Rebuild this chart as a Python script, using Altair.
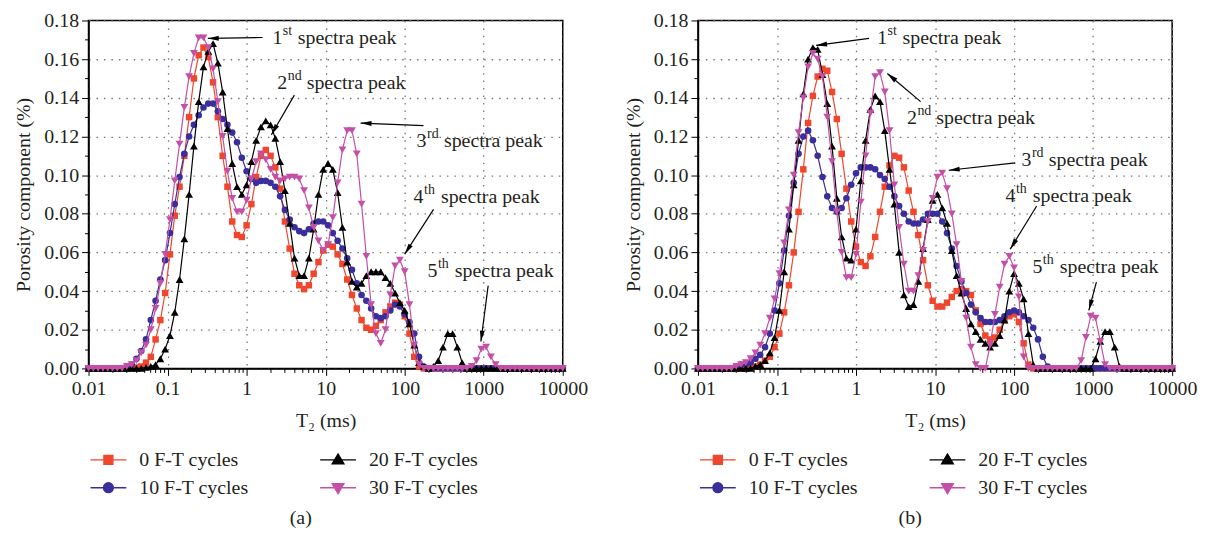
import math
import altair as alt
import pandas as pd

FONT = "Liberation Serif"
TXT = "#231F20"

# T2 sampling grid (log-spaced, 100 points from 0.01 to 10000 ms)
T2 = [10 ** (-2 + 6 * i / 99) for i in range(100)]

SERIES = ["0 F-T cycles", "10 F-T cycles", "20 F-T cycles", "30 F-T cycles"]
COLORS = ["#F0462D", "#3A2E9C", "#000000", "#C44FA6"]
SHAPES = ["square", "circle", "triangle-up", "triangle-down"]
SIZES = [42, 44, 62, 62]

Z10 = [0] * 10

# ---------- panel (a) ----------
a_0 = Z10 + [
    0.0005, 0.001, 0.003, 0.006, 0.015, 0.025, 0.039, 0.059, 0.079, 0.094,
    0.110, 0.130, 0.150, 0.162, 0.166, 0.161, 0.148, 0.130, 0.110, 0.094,
    0.076, 0.069, 0.068, 0.074, 0.085, 0.099, 0.110, 0.113, 0.110, 0.104,
    0.093, 0.076, 0.062, 0.049, 0.043, 0.041, 0.043, 0.049, 0.055, 0.061,
    0.064, 0.063, 0.059, 0.054, 0.046, 0.038, 0.031, 0.025, 0.021, 0.020,
    0.022, 0.025, 0.029, 0.032, 0.034, 0.033, 0.027, 0.018, 0.006, 0.001,
] + Z10 * 3
a_10 = [0, 0, 0, 0, 0, 0, 0, 0, 0.001, 0.002] + [
    0.005, 0.009, 0.015, 0.025, 0.035, 0.046, 0.056, 0.070, 0.085, 0.099,
    0.111, 0.120, 0.126, 0.131, 0.135, 0.137, 0.137, 0.133, 0.129, 0.126,
    0.122, 0.117, 0.109, 0.102, 0.098, 0.096, 0.097, 0.097, 0.096, 0.094,
    0.089, 0.082, 0.077, 0.073, 0.071, 0.070, 0.072, 0.075, 0.076, 0.076,
    0.074, 0.070, 0.066, 0.062, 0.057, 0.051, 0.044, 0.038, 0.035, 0.031,
    0.027, 0.026, 0.027, 0.030, 0.033, 0.032, 0.028, 0.024, 0.018, 0.006,
    0.001, 0, 0, 0, 0, 0, 0, 0, 0, 0,
] + Z10 * 2
a_20 = Z10 + [
    0, 0, 0.0005, 0.001, 0.002, 0.005, 0.010, 0.017, 0.029, 0.046,
    0.067, 0.090, 0.115, 0.138, 0.156, 0.164, 0.168, 0.158, 0.143, 0.124,
    0.106, 0.094, 0.090, 0.095, 0.107, 0.118, 0.125, 0.128, 0.126, 0.119,
    0.107, 0.092, 0.075, 0.057, 0.048, 0.048, 0.057, 0.072, 0.090, 0.103,
    0.106, 0.103, 0.091, 0.073, 0.055, 0.045, 0.042, 0.044, 0.048, 0.050,
    0.050, 0.050, 0.047, 0.044, 0.039, 0.034, 0.030, 0.023, 0.012, 0.003,
    0.001, 0, 0.001, 0.004, 0.011, 0.018, 0.018, 0.011, 0.003, 0,
] + Z10 * 2
a_30 = [0, 0, 0, 0, 0, 0, 0, 0, 0.001, 0.002] + [
    0.004, 0.008, 0.012, 0.020, 0.031, 0.044, 0.059, 0.077, 0.097, 0.116,
    0.135, 0.151, 0.163, 0.171, 0.171, 0.166, 0.155, 0.138, 0.120, 0.102,
    0.088, 0.081, 0.081, 0.087, 0.098, 0.107, 0.111, 0.108, 0.103, 0.099,
    0.097, 0.098, 0.099, 0.099, 0.098, 0.092, 0.083, 0.073, 0.066, 0.061,
    0.064, 0.078, 0.096, 0.113, 0.123, 0.123, 0.111, 0.085, 0.058, 0.033,
    0.018, 0.013, 0.020, 0.038, 0.053, 0.056, 0.050, 0.033, 0.012, 0.002,
    0, 0, 0, 0, 0, 0, 0, 0, 0, 0,
    0.001, 0.004, 0.010, 0.011, 0.006, 0.002, 0, 0, 0, 0,
] + Z10

# ---------- panel (b) ----------
b_0 = Z10 + [
    0, 0.0005, 0.001, 0.002, 0.004, 0.006, 0.011, 0.018, 0.029, 0.043,
    0.060, 0.081, 0.103, 0.127, 0.141, 0.151, 0.155, 0.154, 0.143, 0.129,
    0.111, 0.093, 0.076, 0.063, 0.055, 0.053, 0.058, 0.068, 0.081, 0.094,
    0.105, 0.110, 0.109, 0.104, 0.092, 0.081, 0.069, 0.056, 0.043, 0.035,
    0.032, 0.032, 0.034, 0.037, 0.040, 0.041, 0.040, 0.038, 0.030, 0.023,
    0.017, 0.015, 0.016, 0.020, 0.025, 0.027, 0.028, 0.024, 0.013, 0.002,
] + Z10 * 3
b_10 = [0, 0, 0, 0, 0, 0, 0, 0, 0.001, 0.002] + [
    0.002, 0.003, 0.005, 0.007, 0.011, 0.018, 0.030, 0.044, 0.061, 0.079,
    0.096, 0.111, 0.120, 0.123, 0.118, 0.110, 0.099, 0.089, 0.083, 0.081,
    0.083, 0.088, 0.095, 0.101, 0.104, 0.104, 0.104, 0.103, 0.100, 0.098,
    0.094, 0.089, 0.084, 0.080, 0.076, 0.075, 0.075, 0.077, 0.080, 0.080,
    0.080, 0.076, 0.070, 0.062, 0.053, 0.045, 0.039, 0.033, 0.029, 0.026,
    0.024, 0.024, 0.024, 0.025, 0.027, 0.029, 0.030, 0.029, 0.027, 0.025,
    0.021, 0.015, 0.006, 0.001, 0, 0, 0, 0, 0, 0,
] + Z10 * 2
b_20 = Z10 + [
    0, 0, 0.001, 0.002, 0.004, 0.008, 0.016, 0.030, 0.050, 0.072,
    0.095, 0.118, 0.142, 0.160, 0.166, 0.165, 0.152, 0.137, 0.115, 0.088,
    0.068, 0.057, 0.056, 0.072, 0.097, 0.118, 0.134, 0.141, 0.138, 0.123,
    0.103, 0.085, 0.060, 0.038, 0.032, 0.033, 0.045, 0.062, 0.077, 0.087,
    0.090, 0.083, 0.075, 0.061, 0.048, 0.039, 0.031, 0.023, 0.019, 0.015,
    0.013, 0.011, 0.013, 0.017, 0.025, 0.040, 0.049, 0.044, 0.036, 0.018,
    0.002, 0, 0, 0, 0, 0, 0, 0, 0, 0,
    0, 0, 0, 0.005, 0.014, 0.019, 0.019, 0.011, 0.001, 0,
] + Z10
b_30 = [0, 0, 0, 0, 0, 0, 0, 0, 0.001, 0.002] + [
    0.003, 0.005, 0.008, 0.012, 0.018, 0.026, 0.036, 0.049, 0.065, 0.082,
    0.100, 0.122, 0.140, 0.156, 0.163, 0.160, 0.151, 0.130, 0.107, 0.081,
    0.060, 0.047, 0.047, 0.059, 0.086, 0.110, 0.132, 0.151, 0.153, 0.143,
    0.123, 0.095, 0.073, 0.054, 0.040, 0.040, 0.048, 0.061, 0.076, 0.088,
    0.099, 0.101, 0.093, 0.080, 0.064, 0.045, 0.026, 0.011, 0.002, 0,
    0, 0.012, 0.028, 0.042, 0.054, 0.058, 0.052, 0.037, 0.006, 0,
    0, 0, 0, 0, 0, 0, 0, 0, 0, 0,
    0.004, 0.016, 0.027, 0.026, 0.014, 0.002, 0, 0, 0, 0,
] + Z10

# ---------- annotations: number, suffix, text anchor, arrow tail, arrow head ----------
ANN_NUM = ["1", "2", "3", "4", "5"]
ANN_SUP = ["st", "nd", "rd", "th", "th"]
ANN_REST = "spectra peak"
SUP_W = {"st": 10, "nd": 14, "rd": 12, "th": 12}

ann_a_tx = [2.12, 2.45, 141.6, 129.7, 194.5]
ann_a_ty = [0.1707, 0.1476, 0.1178, 0.0885, 0.0504]
ann_a_tailx = [1.59, 4.02, 173.0, 232.0, 1139.0]
ann_a_taily = [0.1712, 0.1414, 0.1256, 0.0823, 0.0428]
ann_a_headx = [0.323, 2.06, 27.7, 100.0, 922.0]
ann_a_heady = [0.1707, 0.1209, 0.1269, 0.0591, 0.0139]

ann_b_tx = [1.85, 4.41, 124.0, 77.9, 170.5]
ann_b_ty = [0.1707, 0.1296, 0.1080, 0.0891, 0.0523]
ann_b_tailx = [1.466, 6.57, 103.3, 193.0, 1100.0]
ann_b_taily = [0.1707, 0.1380, 0.1063, 0.0840, 0.0446]
ann_b_headx = [0.3126, 2.49, 14.9, 89.3, 882.6]
ann_b_heady = [0.1671, 0.1526, 0.1025, 0.0617, 0.0300]

X_TICKS = [m * 10 ** d for d in range(-2, 4) for m in range(1, 10)] + [10000]
Y_TICKS = [k / 100 for k in range(0, 19)]

W, H = 477, 350
YMAX = 0.18
FS = 20        # main text size
SUP_FS = 14    # superscript size

X_MAJOR = "abs(log(datum.value)/LN10 - round(log(datum.value)/LN10)) < 0.001"
Y_MAJOR = "abs(datum.value*50 - round(datum.value*50)) < 0.01"

xscale = alt.Scale(type="log", domain=[0.01, 10000], nice=False)
yscale = alt.Scale(domain=[0, YMAX], nice=False, zero=False)

common_axis = dict(
    grid=True, gridDash=[1.5, 6], gridColor="#777777", gridWidth=1.3,
    labelFlush=False, labelOverlap=False, labelFont=FONT, labelFontSize=20, labelColor=TXT,
    labelPadding=3, titleFont=FONT, titleFontSize=FS, titleFontWeight="normal", titleColor=TXT,
    domainColor="black", domainWidth=1.5, tickColor="black",
)
xaxis = alt.Axis(
    values=X_TICKS, title="T\u2082 (ms)",
    labelExpr=f"({X_MAJOR}) ? format(datum.value, '~g') : ''",
    tickSize={"condition": {"test": X_MAJOR, "value": 7}, "value": 4},
    gridOpacity={"condition": {"test": X_MAJOR, "value": 1}, "value": 0},
    titlePadding=12, **common_axis,
)
yaxis = alt.Axis(
    values=Y_TICKS, title="Porosity component (%)",
    labelExpr=f"({Y_MAJOR}) ? format(datum.value, '.2f') : ''",
    tickSize={"condition": {"test": Y_MAJOR, "value": 7}, "value": 4},
    gridOpacity={"condition": {"test": Y_MAJOR, "value": 1}, "value": 0},
    titlePadding=10, **common_axis,
)

LEG_PATH = {
    "square": "M-2,0L2,0M-0.5,-0.5L0.5,-0.5L0.5,0.5L-0.5,0.5Z",
    "circle": "M-2,0L2,0M0.55,0A0.55,0.55 0 1,1 -0.55,0A0.55,0.55 0 1,1 0.55,0Z",
    "triangle-up": "M-2,0L2,0M0,-0.65L0.65,0.45L-0.65,0.45Z",
    "triangle-down": "M-2,0L2,0M0,0.65L0.65,-0.45L-0.65,-0.45Z",
}
ARROW = "M0,0L0.45,2L-0.45,2Z"


def X(field):
    return alt.X(f"{field}:Q", scale=xscale, axis=xaxis)


def Y(field):
    return alt.Y(f"{field}:Q", scale=yscale, axis=yaxis)


def panel(vals, tx, ty, tailx, taily, headx, heady, caption):
    layers = []
    for k in range(4):
        df = pd.DataFrame({"T2": T2, "v": vals[k]})
        base = alt.Chart(df).encode(x=X("T2"), y=Y("v"))
        layers.append(base.mark_line(color=COLORS[k], strokeWidth=1.2))
        layers.append(base.mark_point(shape=SHAPES[k], color=COLORS[k], filled=True,
                                      size=SIZES[k], opacity=1, strokeWidth=0))

    # legend (drawn by the legend only, no marks)
    leg = alt.Legend(orient="none", legendX=10, legendY=432, columns=2, title=None,
                     symbolSize=324, labelOffset=21, columnPadding=69, rowPadding=8,
                     labelFontSize=FS, labelFont=FONT, labelColor=TXT,
                     symbolStrokeWidth=1.4, symbolOpacity=1, labelLimit=300)
    ldf = pd.DataFrame({"series": SERIES, "T2": [1.0] * 4, "v": [-1.0] * 4})
    layers.append(
        alt.Chart(ldf).transform_filter("datum.v >= 0").mark_point(filled=True, opacity=1)
        .encode(
            x=X("T2"), y=Y("v"),
            fill=alt.Fill("series:N", scale=alt.Scale(domain=SERIES, range=COLORS), legend=leg),
            stroke=alt.Stroke("series:N", scale=alt.Scale(domain=SERIES, range=COLORS), legend=leg),
            shape=alt.Shape("series:N", scale=alt.Scale(domain=SERIES, range=[LEG_PATH[s] for s in SHAPES]), legend=leg),
        )
    )

    # annotations
    ang = []
    for i in range(5):
        dx = (math.log10(headx[i]) - math.log10(tailx[i])) * W / 6
        dy = -(heady[i] - taily[i]) * H / YMAX
        ang.append(math.degrees(math.atan2(dx, -dy)) % 360)
    adf = pd.DataFrame({"num": ANN_NUM, "sup": ANN_SUP, "tx": tx, "ty": ty,
                        "tailx": tailx, "taily": taily, "headx": headx, "heady": heady, "ang": ang})
    layers.append(alt.Chart(adf).mark_rule(color="black", strokeWidth=1.2).encode(
        x=X("tailx"), y=Y("taily"), x2="headx:Q", y2="heady:Q"))
    layers.append(alt.Chart(adf).mark_point(shape=ARROW, filled=True, color="black", size=121,
                                            opacity=1, strokeWidth=0).encode(
        x=X("headx"), y=Y("heady"), angle=alt.Angle("ang:Q", scale=None)))
    layers.append(alt.Chart(adf).mark_text(align="left", baseline="middle", fontSize=FS, font=FONT,
                                           color=TXT).encode(x=X("tx"), y=Y("ty"), text="num:N"))
    layers.append(alt.Chart(adf).mark_text(align="left", baseline="middle", fontSize=SUP_FS, font=FONT,
                                           color=TXT, dx=10.5, dy=-7).encode(x=X("tx"), y=Y("ty"), text="sup:N"))
    for i in range(5):
        one = adf.iloc[[i]].copy()
        one["rest"] = ANN_REST
        layers.append(alt.Chart(one).mark_text(align="left", baseline="middle", fontSize=FS, font=FONT,
                                               color=TXT, dx=10.5 + SUP_W[ANN_SUP[i]] + 5).encode(
            x=X("tx"), y=Y("ty"), text="rest:N"))

    return alt.layer(*layers).properties(
        width=W, height=H,
        title=alt.TitleParams(caption, orient="bottom", anchor="middle", frame="bounds",
                              fontSize=FS, fontWeight="normal", font=FONT, color=TXT, offset=10),
    )


pa = panel([a_0, a_10, a_20, a_30], ann_a_tx, ann_a_ty, ann_a_tailx, ann_a_taily,
           ann_a_headx, ann_a_heady, "(a)")
pb = panel([b_0, b_10, b_20, b_30], ann_b_tx, ann_b_ty, ann_b_tailx, ann_b_taily,
           ann_b_headx, ann_b_heady, "(b)")

chart = (
    alt.hconcat(pa, pb, spacing=34)
    .resolve_scale(fill="independent", stroke="independent", shape="independent")
    .properties(padding={"left": 5, "top": 0, "right": 0, "bottom": 0})
    .configure(font=FONT)
    .configure_view(stroke="black", strokeWidth=1.5)
)

chart.save("out.html", embed_options={"renderer": "svg", "actions": False})
